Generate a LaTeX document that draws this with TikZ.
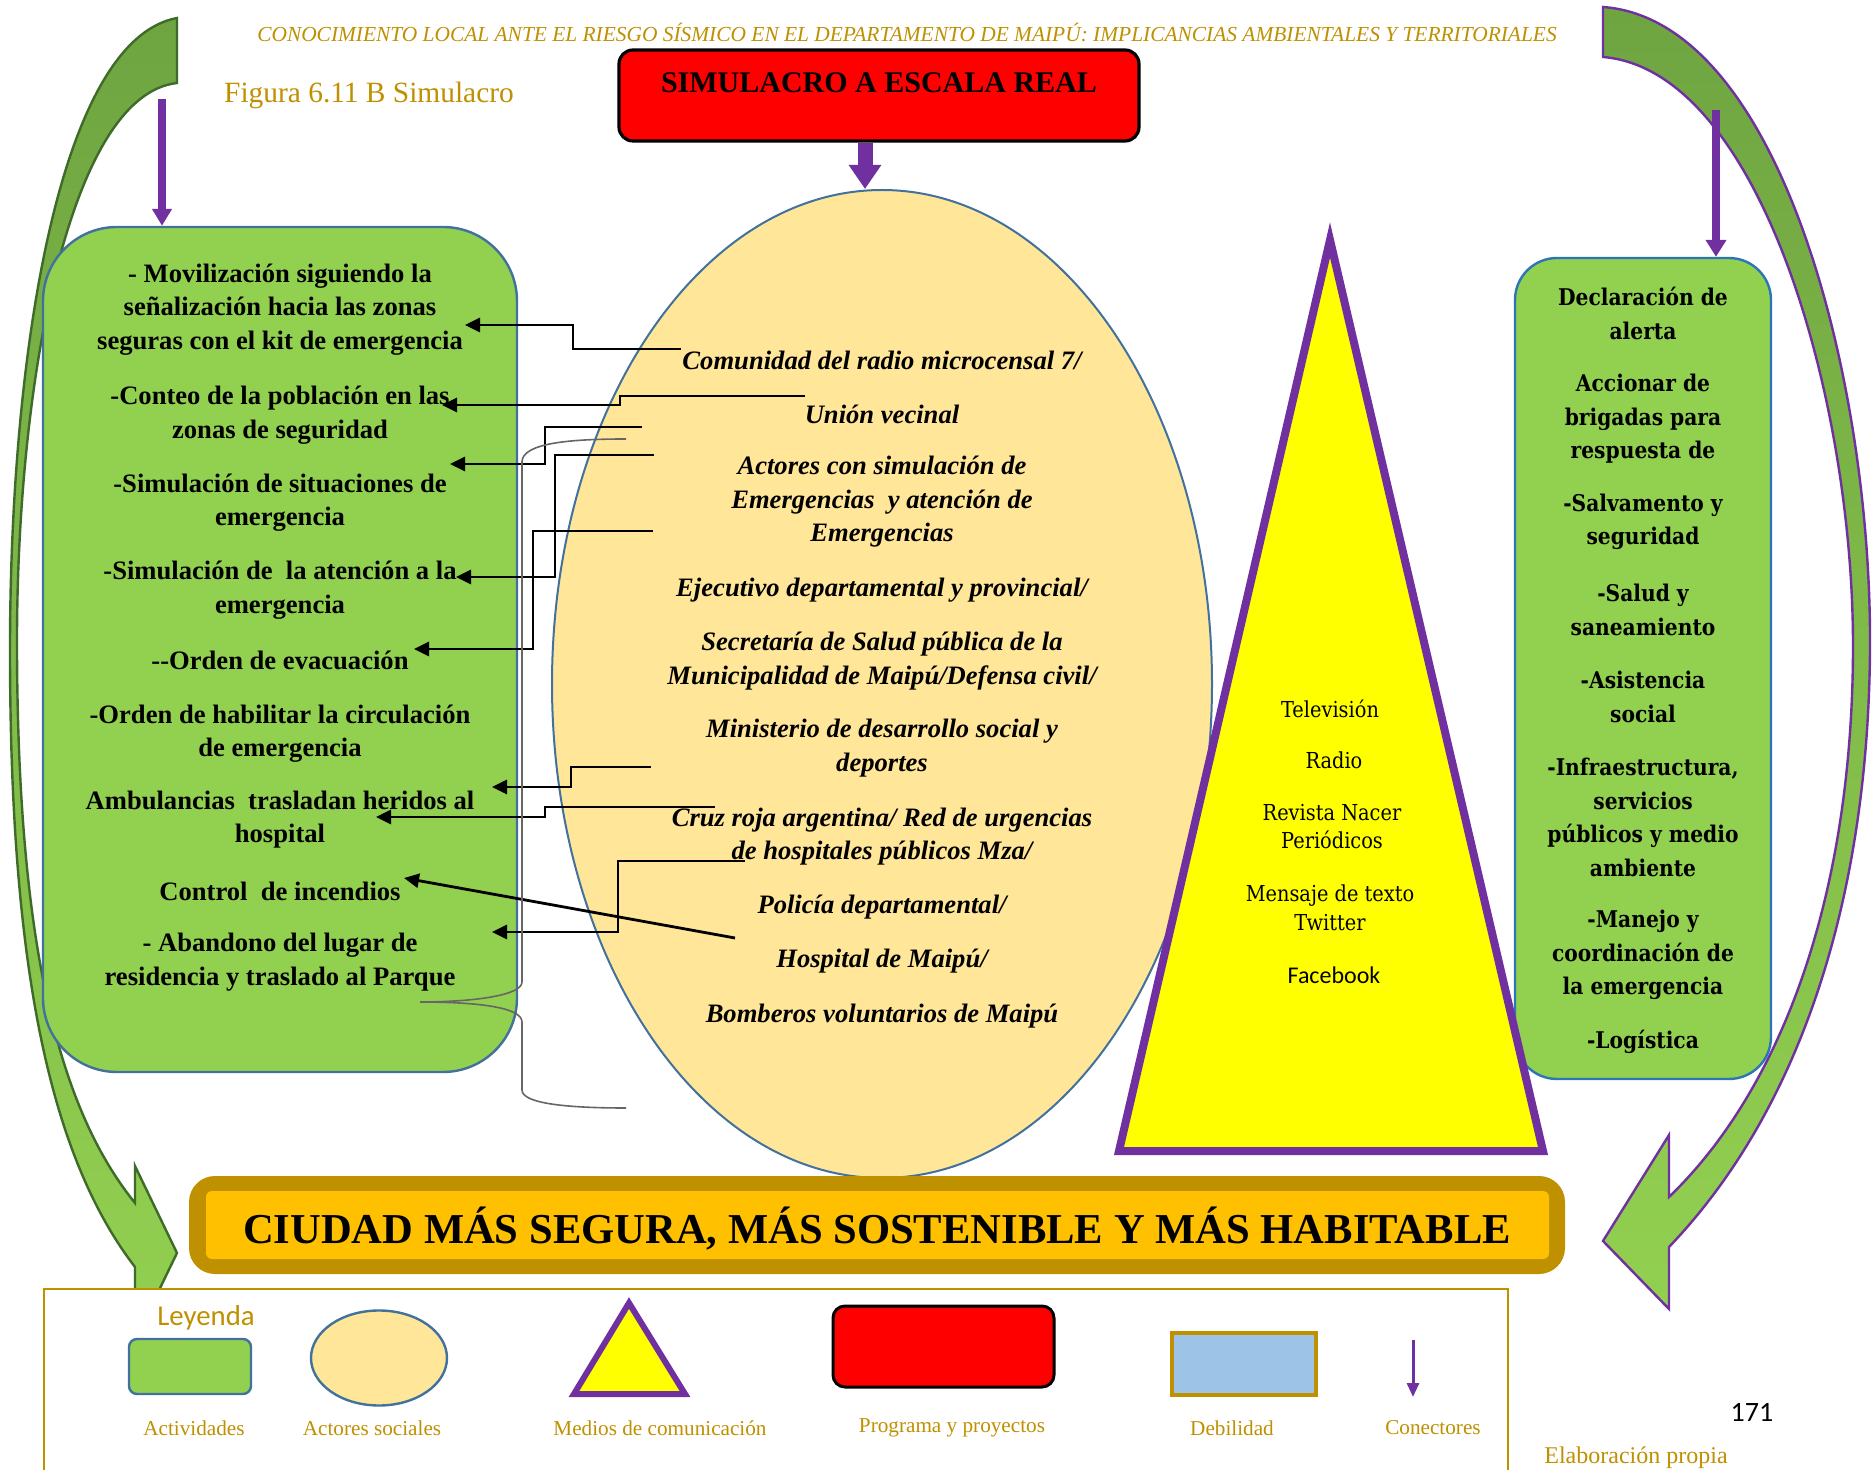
\documentclass[tikz,border=0pt]{standalone}
\usepackage{fontspec}
\setmainfont{Liberation Serif}
\newfontfamily\cambria[FakeStretch=0.88]{DejaVu Serif}
\newfontfamily\calibri{Carlito}
\usetikzlibrary{arrows.meta,shapes.geometric}
\definecolor{gold}{HTML}{BF9000}
\definecolor{lgreen}{HTML}{92D050}
\definecolor{dgreen}{HTML}{6FA541}
\definecolor{dkborder}{HTML}{3E6B2A}
\definecolor{purp}{HTML}{7030A0}
\definecolor{bblue}{HTML}{41719C}
\definecolor{rblue}{HTML}{2E75B6}
\definecolor{cream}{HTML}{FFE699}
\definecolor{amber}{HTML}{FFC000}
\definecolor{lblue}{HTML}{9DC3E6}
\definecolor{pureyellow}{HTML}{FFFF00}
\begin{document}
\begin{tikzpicture}[x=0.5pt,y=-0.5pt,
  conn/.style={line width=1.4pt,-{Triangle[length=7.5pt,width=7pt]}},
  acttext/.style={font=\bfseries\fontsize{13.3}{16.75}\selectfont,align=center,inner sep=0pt},
  actortext/.style={font=\bfseries\itshape\fontsize{13.3}{16.75}\selectfont,align=center,inner sep=0pt},
  righttext/.style={font=\cambria\bfseries\fontsize{11.5}{16.75}\selectfont,align=center,inner sep=0pt},
  medtext/.style={font=\cambria\fontsize{11}{14.25}\selectfont,align=center,inner sep=0pt},
  legtext/.style={text=gold,font=\fontsize{10.6}{12}\selectfont,inner sep=0pt},
  purparrow/.style={draw=purp,line width=#1}
]
\useasboundingbox[fill=white] (0,0) rectangle (1876,1470);

% big curved arrows
\path[draw=dkborder,line width=1.2pt,top color=dgreen,bottom color=lgreen]
  (177,18) .. controls (60,40) and (10,350) .. (10,650)
  .. controls (10,950) and (45,1150) .. (135,1267)
  -- (135,1340) -- (177,1253) -- (135,1166) -- (135,1203)
  .. controls (60,1110) and (18,950) .. (17,650)
  .. controls (16,380) and (70,95) .. (177,83) -- cycle;
\path[draw=purp,line width=1.2pt,top color=dgreen,bottom color=lgreen]
  (1603,7) .. controls (1780,20) and (1872,380) .. (1870,650)
  .. controls (1868,900) and (1800,1110) .. (1669,1247)
  -- (1669,1309) -- (1603,1241) -- (1669,1135) -- (1669,1197)
  .. controls (1780,1090) and (1852,900) .. (1853,650)
  .. controls (1854,400) and (1760,70) .. (1603,57) -- cycle;

% titles
\node[text=gold,font=\itshape\fontsize{10.7}{12}\selectfont,inner sep=0pt] (header) at (907,32)
  {CONOCIMIENTO LOCAL ANTE EL RIESGO SÍSMICO EN EL DEPARTAMENTO DE MAIPÚ: IMPLICANCIAS AMBIENTALES Y TERRITORIALES};
\node[text=gold,font=\fontsize{14.7}{17}\selectfont,inner sep=0pt] (fig) at (369,95) {Figura 6.11 B Simulacro};

% red program box
\node[draw=black,line width=1.6pt,fill=red,rounded corners=7pt,minimum width=260pt,minimum height=45.5pt,inner sep=0pt] (redbox) at (879,95.5) {};
\node[font=\bfseries\fontsize{15}{17}\selectfont,inner sep=0pt] (redtitle) at (879,83) {SIMULACRO A ESCALA REAL};

% ellipse of actors
\node[ellipse,draw=bblue,line width=1pt,fill=cream,minimum width=330pt,minimum height=494pt,inner sep=0pt] (actores) at (882,684) {};

% boxes
\node[draw=bblue,fill=lgreen,line width=1.2pt,rounded corners=37pt,minimum width=237pt,minimum height=422.5pt,inner sep=0pt] (activ) at (280,649.5) {};
\node[draw=rblue,fill=lgreen,line width=1.2pt,rounded corners=21pt,minimum width=128pt,minimum height=410.5pt,inner sep=0pt] (dirbox) at (1643,668.5) {};

% triangle of media
\coordinate (tapex) at (1330,240);
\coordinate (tright) at (1543,1151);
\coordinate (tleft) at (1119,1151);
\draw[purp,line width=4pt,fill=pureyellow,line join=miter] (tapex) -- (tright) -- (tleft) -- cycle;

% purple connectors
\coordinate (topx) at (865,0);
\draw[purparrow=7.5pt,-{Triangle[length=12pt,width=15.5pt]}] (redbox.south -| topx) -- (actores.north -| topx);
\coordinate (lstart) at (162,99);
\draw[purparrow=3.8pt,-{Triangle[length=8.5pt,width=9.5pt]}] (lstart) -- (activ.north -| lstart);
\coordinate (rstart) at (1716,110);
\draw[purparrow=3.8pt,-{Triangle[length=8.5pt,width=10pt]}] (rstart) -- (dirbox.north -| rstart);

% activities text
\node[acttext] (a1) at (280,309.5) {- Movilización siguiendo la\\señalización hacia las zonas\\seguras con el kit de emergencia};
\node[acttext] (a2) at (280,415) {-Conteo de la población en las\\zonas de seguridad};
\node[acttext] (a3) at (280,502.5) {-Simulación de situaciones de\\emergencia};
\node[acttext] (a4) at (280,590) {-Simulación de\ \ la atención a la\\emergencia};
\node[acttext] (a5) at (280,660) {{-}{-}Orden de evacuación};
\node[acttext] (a6) at (280,733.5) {-Orden de habilitar la circulación\\de emergencia};
\node[acttext] (a7) at (280,819.5) {Ambulancias\ \ trasladan heridos al\\hospital};
\node[acttext] (a8) at (280,891) {Control\ \ de incendios};
\node[acttext] (a9) at (280,962) {- Abandono del lugar de\\residencia y traslado al Parque};

% actors text
\node[actortext] (b1) at (882,360) {Comunidad del radio microcensal 7/};
\node[actortext] (b2) at (882,414) {Unión vecinal};
\node[actortext] (b3) at (882,502) {Actores con simulación de\\Emergencias\ \ y atención de\\Emergencias};
\node[actortext] (b4) at (882,590) {Ejecutivo departamental y provincial/};
\node[actortext] (b5) at (882,661) {Secretaría de Salud pública de la\\Municipalidad de Maipú/Defensa civil/};
\node[actortext] (b6) at (882,748) {Ministerio de desarrollo social y\\deportes};
\node[actortext] (b7) at (882,836.5) {Cruz roja argentina/ Red de urgencias\\de hospitales públicos Mza/};
\node[actortext] (b8) at (882,907) {Policía departamental/};
\node[actortext] (b9) at (882,961) {Hospital de Maipú/};
\node[actortext] (b10) at (882,1016) {Bomberos voluntarios de Maipú};

% media text
\node[medtext] (m1) at (1330,709) {Televisión};
\node[medtext] (m2) at (1334,760) {Radio};
\node[medtext] (m3) at (1332,826.5) {Revista Nacer\\Periódicos};
\node[medtext] (m4) at (1330,908) {Mensaje de texto\\Twitter};
\node[font=\calibri\fontsize{12}{14}\selectfont,inner sep=0pt] (m5) at (1334,975) {Facebook};

% right box text
\node[righttext] (r1) at (1643,313.5) {Declaración de\\alerta};
\node[righttext] (r2) at (1643,419) {Accionar de\\brigadas para\\respuesta de};
\node[righttext] (r3) at (1643,522) {-Salvamento y\\seguridad};
\node[righttext] (r4) at (1643,610) {-Salud y\\saneamiento};
\node[righttext] (r5) at (1643,697) {-Asistencia\\social};
\node[righttext] (r6) at (1643,817.5) {-Infraestructura,\\servicios\\públicos y medio\\ambiente};
\node[righttext] (r7) at (1643,955) {-Manejo y\\coordinación de\\la emergencia};
\node[righttext] (r8) at (1643,1042) {-Logística};

% black connectors
\coordinate (s1) at (681,349); \coordinate (e1) at (465,325);
\coordinate (s2) at (805,396); \coordinate (e2) at (442,405);
\coordinate (s3) at (642,427); \coordinate (e3) at (450,464);
\coordinate (s4) at (654,455); \coordinate (e4) at (456,577);
\coordinate (s5) at (653,531); \coordinate (e5) at (414,649);
\coordinate (s6) at (651,767); \coordinate (e6) at (492,787);
\coordinate (s7) at (715,807); \coordinate (e7) at (376,817);
\coordinate (s8) at (735,938); \coordinate (e8) at (404,878);
\coordinate (s9) at (745,861); \coordinate (e9) at (492,932);
\draw[conn] (s1) -- ++(-108,0) |- (e1);
\draw[conn] (s2) -- ++(-185,0) |- (e2);
\draw[conn] (s3) -- ++(-97,0) |- (e3);
\draw[conn] (s4) -- ++(-99,0) |- (e4);
\draw[conn] (s5) -- ++(-120,0) |- (e5);
\draw[conn] (s6) -- ++(-80,0) |- (e6);
\draw[conn] (s7) -- ++(-170,0) |- (e7);
\draw[conn] (s8) -- (e8);
\draw[conn] (s9) -- ++(-127,0) |- (e9);

% grey brace
\coordinate (br1) at (626,439);
\coordinate (brt) at (420,1002);
\coordinate (br2) at (626,1108);
\draw[black!60,line width=0.8pt] (br1) .. controls (570,439) and (522,443) .. (522,462) -- (522,982)
  .. controls (522,996) and (470,1002) .. (brt)
  .. controls (470,1002) and (522,1006) .. (522,1022) -- (522,1090)
  .. controls (522,1104) and (570,1108) .. (br2);

% banner
\node[fill=gold,rounded corners=13pt,minimum width=688pt,minimum height=49pt,inner sep=0pt] (banner) at (877,1225) {};
\node[fill=amber,rounded corners=3pt,minimum width=671.5pt,minimum height=34pt,inner sep=0pt] (bannerin) at (877.5,1225) {};
\node[font=\bfseries\fontsize{21.3}{24}\selectfont,inner sep=0pt] (bannertext) at (877,1229) {CIUDAD MÁS SEGURA, MÁS SOSTENIBLE Y MÁS HABITABLE};

% legend
\node[draw=gold,line width=1.2pt,fill=white,minimum width=732pt,minimum height=110pt,anchor=north west,inner sep=0pt] (legend) at (43,1288) {};
\node[text=gold,font=\calibri\fontsize{14.4}{16}\selectfont,inner sep=0pt] (leyenda) at (206,1318) {Leyenda};
\node[draw=bblue,fill=lgreen,line width=1.2pt,rounded corners=4pt,minimum width=61pt,minimum height=27.5pt,inner sep=0pt] (lg1) at (190,1366.5) {};
\node[ellipse,draw=bblue,fill=cream,line width=1.2pt,minimum width=68pt,minimum height=47.5pt,inner sep=0pt] (lg2) at (379,1358) {};
\coordinate (lta) at (629,1303);
\coordinate (ltr) at (685,1394);
\coordinate (ltl) at (574,1394);
\draw[purp,line width=3pt,fill=pureyellow,line join=miter] (lta) -- (ltr) -- (ltl) -- cycle;
\node[draw=black,fill=red,line width=1.5pt,rounded corners=6pt,minimum width=110.5pt,minimum height=40.5pt,inner sep=0pt] (lg4) at (943.5,1346.5) {};
\node[draw=gold,fill=lblue,line width=2pt,minimum width=72pt,minimum height=31pt,inner sep=0pt] (lg5) at (1244,1364) {};
\coordinate (lca) at (1413,1340);
\coordinate (lcb) at (1413,1397);
\draw[purparrow=1.5pt,-{Triangle[length=7pt,width=6pt]}] (lca) -- (lcb);
\node[legtext] (lt1) at (194,1428) {Actividades};
\node[legtext] (lt2) at (372,1428) {Actores sociales};
\node[legtext] (lt3) at (660,1428) {Medios de comunicación};
\node[legtext] (lt4) at (952,1428) {Programa y proyectos};
\node[legtext] (lt5) at (1232,1428) {Debilidad};
\node[legtext] (lt6) at (1433,1428) {Conectores};
\node[font=\calibri\fontsize{14}{16}\selectfont,inner sep=0pt] (pnum) at (1752,1412) {171};
\node[text=gold,font=\fontsize{12}{14}\selectfont,inner sep=0pt] (elab) at (1636,1458) {Elaboración propia};
\end{tikzpicture}
\end{document}
